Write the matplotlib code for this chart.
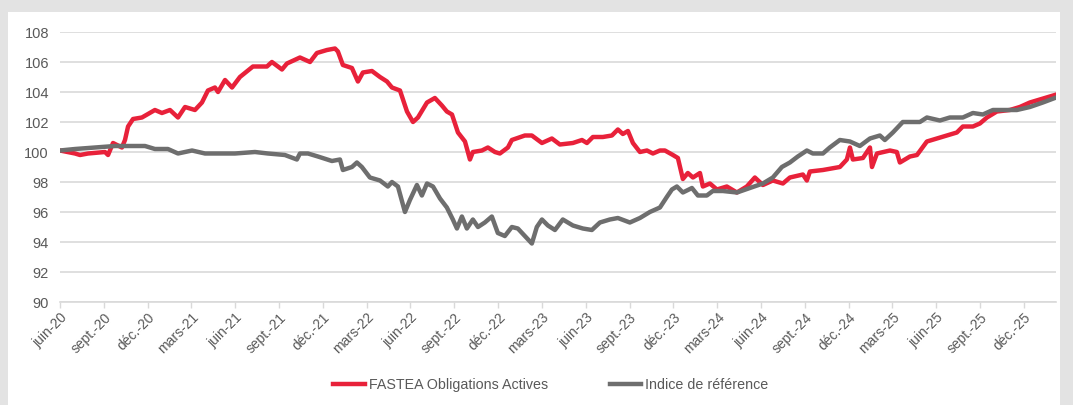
import matplotlib
matplotlib.use("Agg")
import matplotlib.pyplot as plt
from matplotlib.patches import Rectangle

plt.rcParams['font.family'] = ['Liberation Sans', 'DejaVu Sans']

# x positions: months elapsed since June 2020
fastea_months = [0.0, 1.03, 1.37, 1.92, 3.08, 3.29, 3.63, 4.24, 4.45, 4.66, 5.00, 5.61, 6.50, 6.98, 7.53,
                 8.08, 8.56, 9.24, 9.72, 10.13, 10.61, 10.82, 11.30, 11.78, 12.32, 13.21, 14.17, 14.51,
                 15.20, 15.54, 16.43, 17.12, 17.59, 18.28, 18.83, 19.03, 19.37, 19.99, 20.40, 20.74,
                 21.36, 21.91, 22.39, 22.73, 23.28, 23.76, 24.17, 24.51, 25.13, 25.67, 26.15, 26.49,
                 26.84, 27.25, 27.73, 28.07, 28.27, 28.89, 29.30, 29.78, 30.12, 30.67, 30.94, 31.83,
                 32.31, 33.00, 33.68, 34.23, 35.12, 35.74, 36.08, 36.49, 37.17, 37.79, 38.20, 38.54,
                 38.89, 39.23, 39.71, 40.19, 40.60, 41.08, 41.42, 41.97, 42.31, 42.65, 42.99, 43.34,
                 43.82, 44.02, 44.50, 44.98, 45.66, 46.35, 47.03, 47.58, 48.13, 48.81, 49.50, 49.98,
                 50.87, 51.14, 51.35, 52.24, 53.40, 53.88, 54.09, 54.29, 54.98, 55.46, 55.60, 55.94,
                 56.83, 57.30, 57.51, 58.20, 58.68, 59.36, 60.04, 60.73, 61.41, 61.82, 62.51, 62.99,
                 63.47, 64.15, 65.04, 65.72, 66.41, 67.09, 67.78, 68.12]
fastea_values = [100.1, 99.9, 99.8, 99.9, 100.0, 99.8, 100.6, 100.3, 100.8, 101.7, 102.2, 102.3, 102.8, 102.6, 102.8,
                 102.3, 103.0, 102.8, 103.3, 104.1, 104.3, 104.0, 104.8, 104.3, 105.0, 105.7, 105.7, 106.0,
                 105.5, 105.9, 106.3, 106.0, 106.6, 106.8, 106.9, 106.7, 105.8, 105.6, 104.7, 105.3,
                 105.4, 105.0, 104.7, 104.3, 104.1, 102.7, 102.0, 102.3, 103.3, 103.6, 103.1, 102.7,
                 102.5, 101.3, 100.7, 99.5, 100.0, 100.1, 100.3, 100.0, 99.9, 100.3, 100.8, 101.1,
                 101.1, 100.6, 100.9, 100.5, 100.6, 100.8, 100.6, 101.0, 101.0, 101.1, 101.5, 101.2,
                 101.4, 100.6, 100.0, 100.1, 99.9, 100.1, 100.1, 99.8, 99.6, 98.2, 98.6, 98.3,
                 98.6, 97.7, 97.9, 97.5, 97.7, 97.3, 97.7, 98.3, 97.8, 98.1, 97.9, 98.3,
                 98.5, 98.1, 98.7, 98.8, 99.0, 99.5, 100.3, 99.5, 99.6, 100.3, 99.0, 99.9,
                 100.1, 100.0, 99.3, 99.7, 99.8, 100.7, 100.9, 101.1, 101.3, 101.7, 101.7, 101.9,
                 102.3, 102.7, 102.8, 103.0, 103.3, 103.5, 103.7, 103.8]

indice_months = [0.0, 1.03, 2.40, 3.77, 5.13, 5.82, 6.50, 7.39, 8.08, 9.04, 9.93, 10.82, 11.98, 13.35, 14.24,
                 15.40, 16.22, 16.43, 16.98, 17.66, 18.62, 19.17, 19.37, 19.99, 20.33, 20.67, 21.22,
                 21.91, 22.45, 22.73, 23.14, 23.62, 23.96, 24.44, 24.78, 25.13, 25.54, 26.02, 26.49,
                 26.90, 27.18, 27.52, 27.86, 28.27, 28.62, 29.09, 29.57, 29.98, 30.46, 30.94, 31.35,
                 31.83, 32.31, 32.65, 33.00, 33.41, 33.89, 34.43, 35.12, 35.80, 36.42, 36.97, 37.65,
                 38.20, 39.02, 39.71, 40.39, 41.08, 41.55, 41.90, 42.24, 42.65, 43.27, 43.68, 44.29,
                 44.70, 45.39, 46.35, 47.24, 48.13, 48.81, 49.43, 49.98, 50.52, 51.14, 51.55, 52.24,
                 52.71, 53.40, 54.09, 54.77, 55.46, 56.14, 56.48, 57.03, 57.71, 58.40, 58.88, 59.36,
                 60.25, 60.93, 61.82, 62.51, 63.19, 63.88, 64.83, 65.52, 66.41, 67.30, 68.12]
indice_values = [100.1, 100.2, 100.3, 100.4, 100.4, 100.4, 100.2, 100.2, 99.9, 100.1, 99.9, 99.9, 99.9, 100.0, 99.9,
                 99.8, 99.5, 99.9, 99.9, 99.7, 99.4, 99.5, 98.8, 99.0, 99.3, 99.0, 98.3,
                 98.1, 97.7, 98.0, 97.7, 96.0, 96.8, 97.8, 97.1, 97.9, 97.7, 96.9, 96.3,
                 95.5, 94.9, 95.7, 94.9, 95.5, 95.0, 95.3, 95.7, 94.6, 94.4, 95.0, 94.9,
                 94.4, 93.9, 95.0, 95.5, 95.1, 94.8, 95.5, 95.1, 94.9, 94.8, 95.3, 95.5,
                 95.6, 95.3, 95.6, 96.0, 96.3, 97.0, 97.5, 97.7, 97.3, 97.6, 97.1, 97.1,
                 97.4, 97.4, 97.3, 97.6, 97.9, 98.3, 99.0, 99.3, 99.7, 100.1, 99.9, 99.9,
                 100.3, 100.8, 100.7, 100.4, 100.9, 101.1, 100.8, 101.3, 102.0, 102.0, 102.0, 102.3,
                 102.1, 102.3, 102.3, 102.6, 102.5, 102.8, 102.8, 102.8, 103.0, 103.3, 103.6]

tick_labels = ['juin-20', 'sept.-20', 'déc.-20', 'mars-21', 'juin-21', 'sept.-21', 'déc.-21', 'mars-22',
               'juin-22', 'sept.-22', 'déc.-22', 'mars-23', 'juin-23', 'sept.-23', 'déc.-23', 'mars-24',
               'juin-24', 'sept.-24', 'déc.-24', 'mars-25', 'juin-25', 'sept.-25', 'déc.-25']
y_ticks = [90, 92, 94, 96, 98, 100, 102, 104, 106, 108]

series_names = ['FASTEA Obligations Actives', 'Indice de référence']
RED = '#e8213a'
GRAY = '#6e6e6e'
TXT = '#595959'
GRID = '#d9d9d9'

W, H = 1073, 405
fig = plt.figure(figsize=(W / 100, H / 100), dpi=100)
fig.patch.set_facecolor('#e3e3e3')
bg = Rectangle((8 / W, 0), (1060 - 8) / W, (H - 12) / H,
               transform=fig.transFigure, facecolor='white', edgecolor='none', zorder=-10)
fig.patches.append(bg)

ax = fig.add_axes([60 / W, (H - 302) / H, (1056 - 60) / W, 270 / H])
ax.set_zorder(1)
ax.patch.set_alpha(0)
ax.plot(indice_months, indice_values, color=GRAY, lw=3.2, solid_joinstyle='round', label=series_names[1], zorder=3)
ax.plot(fastea_months, fastea_values, color=RED, lw=3.2, solid_joinstyle='round', label=series_names[0], zorder=2)

ax.set_ylim(90, 108)
ax.set_yticks(y_ticks)
ax.set_xlim(0, 68.2)
ax.set_xticks([3 * i for i in range(len(tick_labels))])
ax.set_xticklabels(tick_labels, rotation=45, ha='right', va='top', rotation_mode='anchor')
ax.yaxis.grid(True, color=GRID, lw=1.2)
ax.set_axisbelow(True)
for s in ['top', 'right', 'left']:
    ax.spines[s].set_visible(False)
ax.spines['bottom'].set_color(GRID)
ax.spines['bottom'].set_linewidth(1.2)
ax.tick_params(axis='y', length=0, labelsize=10.5, labelcolor=TXT, pad=8)
ax.tick_params(axis='x', length=4, color=GRID, width=1, labelsize=10, labelcolor=TXT, pad=2)

h, l = ax.get_legend_handles_labels()
order = [1, 0]
fig.legend([h[i] for i in order], [l[i] for i in order], loc='center', bbox_to_anchor=(551 / W, (H - 385) / H),
           ncol=2, frameon=False, fontsize=10.3, handlelength=2.2, handletextpad=0.3, columnspacing=4.3,
           labelcolor=TXT)

fig.savefig('out.png', dpi=100, facecolor=fig.get_facecolor())
